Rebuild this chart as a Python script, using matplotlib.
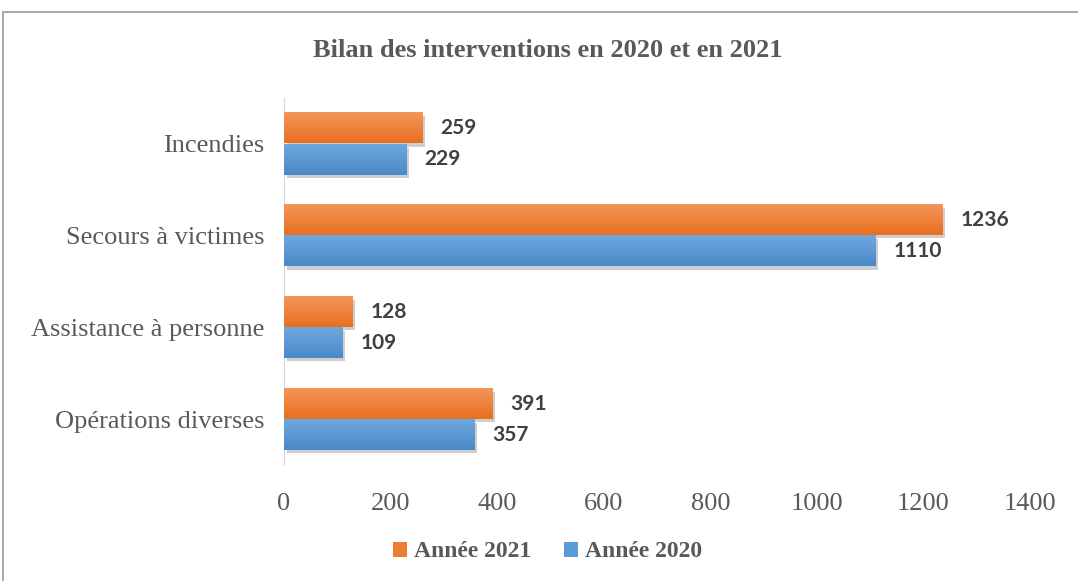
import matplotlib.pyplot as plt
import numpy as np
from matplotlib.patches import Rectangle
from matplotlib.colors import LinearSegmentedColormap

categories = ["Incendies", "Secours à victimes", "Assistance à personne", "Opérations diverses"]
annee_2021 = [259, 1236, 128, 391]
annee_2020 = [229, 1110, 109, 357]
xticks = [0, 200, 400, 600, 800, 1000, 1200, 1400]

orange = "#ED7D31"
blue = "#5B9BD5"
txt = "#595959"

fig = plt.figure(figsize=(10.78, 5.81), dpi=100)
ax = fig.add_axes([0.2635, 0.1997, 0.692, 0.6316])

# outer chart border
fig.patches.append(Rectangle((0.003, -0.01), 1.1, 0.99, transform=fig.transFigure,
                             fill=False, edgecolor="#9a9a9a", lw=1.2))

y = np.arange(len(categories))
h = 0.33
off = 0.17

cm_or = LinearSegmentedColormap.from_list("or", ["#F4955A", "#E8701F"])
cm_bl = LinearSegmentedColormap.from_list("bl", ["#6FA8DE", "#4A89C8"])
grad = np.linspace(0, 1, 50).reshape(-1, 1)


def gradient_bars(ys, vals, cmap, color):
    # shadow first, then the bar with a vertical gradient on top
    ax.barh(ys + 0.035, vals, height=h, left=5, color="#a6a6a6", alpha=0.55, zorder=1)
    bars = ax.barh(ys, vals, height=h, color=color, zorder=2)
    for yy, v in zip(ys, vals):
        ax.imshow(grad, cmap=cmap, aspect="auto", zorder=3,
                  extent=(0, v, yy + h / 2, yy - h / 2))
    return bars


b1 = gradient_bars(y - off, annee_2021, cm_or, orange)
b2 = gradient_bars(y + off, annee_2020, cm_bl, blue)
b1.set_label("Année 2021")
b2.set_label("Année 2020")

for yy, v in zip(y - off, annee_2021):
    ax.text(v + 34, yy, str(v), va="center", ha="left", fontsize=15,
            fontweight="bold", color="#404040", family="Lato")
for yy, v in zip(y + off, annee_2020):
    ax.text(v + 34, yy, str(v), va="center", ha="left", fontsize=15,
            fontweight="bold", color="#404040", family="Lato")

ax.set_xlim(0, 1400)
ax.set_ylim(3.5, -0.5)
ax.set_xticks(xticks)
ax.set_xticklabels([str(t) for t in xticks], family="Liberation Serif", fontsize=19, color=txt)
ax.set_yticks(y)
ax.set_yticklabels(categories, family="Liberation Serif", fontsize=19, color=txt)
ax.tick_params(axis="x", length=0, pad=20)
ax.tick_params(axis="y", length=0, pad=14)
for s in ["top", "right", "bottom"]:
    ax.spines[s].set_visible(False)
ax.spines["left"].set_color("#d9d9d9")

fig.text(0.508, 0.913, "Bilan des interventions en 2020 et en 2021", ha="center", va="center",
         family="Liberation Serif", fontweight="bold", fontsize=19, color=txt)

leg = fig.legend(handles=[b1, b2], loc="center", bbox_to_anchor=(0.508, 0.05), ncol=2,
                 frameon=False, handlelength=0.6, handleheight=0.6, handletextpad=0.3,
                 columnspacing=1.4, prop={"family": "Liberation Serif", "weight": "bold", "size": 17})
for t in leg.get_texts():
    t.set_color(txt)

fig.savefig("out.png", dpi=100)
